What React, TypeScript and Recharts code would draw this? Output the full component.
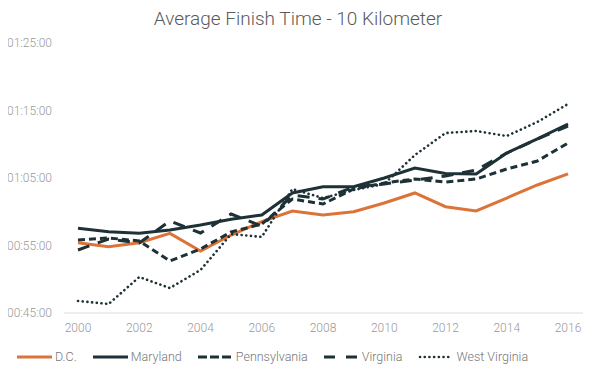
import { LineChart, Line, XAxis, YAxis } from 'recharts';

// years on the x axis
const years = ['2000', '2001', '2002', '2003', '2004', '2005', '2006', '2007', '2008',
  '2009', '2010', '2011', '2012', '2013', '2014', '2015', '2016'];

// average finish times, in seconds
const dcTimes = [3325, 3289, 3325, 3408, 3251, 3393, 3512, 3607, 3571, 3600, 3678, 3767, 3645, 3607, 3722, 3838, 3936];
const marylandTimes = [3453, 3423, 3408, 3438, 3482, 3533, 3571, 3767, 3823, 3823, 3900, 3989, 3940, 3936, 4122, 4247, 4380];
const pennsylvaniaTimes = [3349, 3367, 3340, 3162, 3269, 3420, 3491, 3713, 3669, 3802, 3856, 3891, 3864, 3891, 3980, 4051, 4211];
const virginiaTimes = [3260, 3358, 3322, 3518, 3411, 3580, 3473, 3749, 3713, 3820, 3847, 3882, 3918, 3971, 4122, 4247, 4362];
const westVirginiaTimes = [2807, 2780, 3020, 2922, 3082, 3402, 3376, 3802, 3722, 3793, 3847, 4104, 4300, 4318, 4273, 4398, 4558];

const yTicks = [2700, 3300, 3900, 4500, 5100];

const series = [
  { key: 'dc', name: 'D.C.', values: dcTimes, color: '#dc7338', dash: undefined, width: 3 },
  { key: 'md', name: 'Maryland', values: marylandTimes, color: '#1d3136', dash: undefined, width: 3 },
  { key: 'pa', name: 'Pennsylvania', values: pennsylvaniaTimes, color: '#1d3136', dash: '7 4', width: 3 },
  { key: 'va', name: 'Virginia', values: virginiaTimes, color: '#1d3136', dash: '12 9', width: 3 },
  { key: 'wv', name: 'West Virginia', values: westVirginiaTimes, color: '#1d3136', dash: '0.1 4.6', width: 2.6 },
];

const data = years.map((year, i) => {
  const row: Record<string, string | number> = { year };
  series.forEach((s) => { row[s.key] = s.values[i]; });
  return row;
});

const pad = (n: number) => String(n).padStart(2, '0');
const formatTime = (sec: number) => {
  const h = Math.floor(sec / 3600);
  const m = Math.floor((sec % 3600) / 60);
  const s = sec % 60;
  return `${pad(h)}:${pad(m)}:${pad(s)}`;
};

const font = 'Roboto, "Noto Sans", sans-serif';

const App = () => {
  return (
    <div style={{ position: 'relative', width: 580, height: 365, fontFamily: font }}>
      <div style={{
        position: 'absolute', top: 0, left: 0, width: 596 - 16, textAlign: 'center',
        fontSize: 19, fontWeight: 300, color: '#5a5a5a', lineHeight: '22px',
      }}>
        Average Finish Time - 10 Kilometer
      </div>
      <LineChart
        width={580}
        height={340}
        data={data}
        margin={{ top: 35, right: 5, left: 0, bottom: 5 }}
      >
        <XAxis dataKey="year"
          interval={1}
          tickLine={false}
          tickSize={0}
          tickMargin={10}
          padding={{ left: 14, right: 15 }}
          stroke="#dddddd"
          tick={{ fill: '#999', fontSize: 12, fontFamily: font, fontWeight: 300 }} />
        <YAxis
          width={56}
          domain={[2700, 5100]}
          ticks={yTicks}
          tickFormatter={formatTime}
          axisLine={false}
          tickLine={false}
          tickSize={0}
          tickMargin={12}
          tick={{ fill: '#999', fontSize: 12, fontFamily: font, fontWeight: 300 }} />
        {series.map((s) => (
          <Line key={s.key}
            dataKey={s.key}
            name={s.name}
            type="linear"
            stroke={s.color}
            strokeWidth={s.width}
            strokeDasharray={s.dash}
            strokeLinecap={s.key === 'wv' ? 'round' : 'butt'}
            dot={false}
            activeDot={false}
            isAnimationActive={false} />
        ))}
      </LineChart>
      <div style={{
        position: 'absolute', top: 341, left: 9, display: 'flex', alignItems: 'center',
        gap: 16, fontSize: 12.5, fontWeight: 300, color: '#777',
      }}>
        {series.map((s) => (
          <div key={s.key} style={{ display: 'flex', alignItems: 'center', gap: 3 }}>
            <svg width={35} height={8}>
              <line x1={s.key === 'wv' ? 2 : 0} y1={4} x2={s.key === 'wv' ? 34 : 35} y2={4}
                stroke={s.color}
                strokeWidth={s.width}
                strokeDasharray={s.key === 'pa' ? '9 3' : s.key === 'va' ? '11 11' : s.dash}
                strokeLinecap={s.key === 'wv' ? 'round' : 'butt'} />
            </svg>
            <span>{s.name}</span>
          </div>
        ))}
      </div>
    </div>
  );
};

export default App;
